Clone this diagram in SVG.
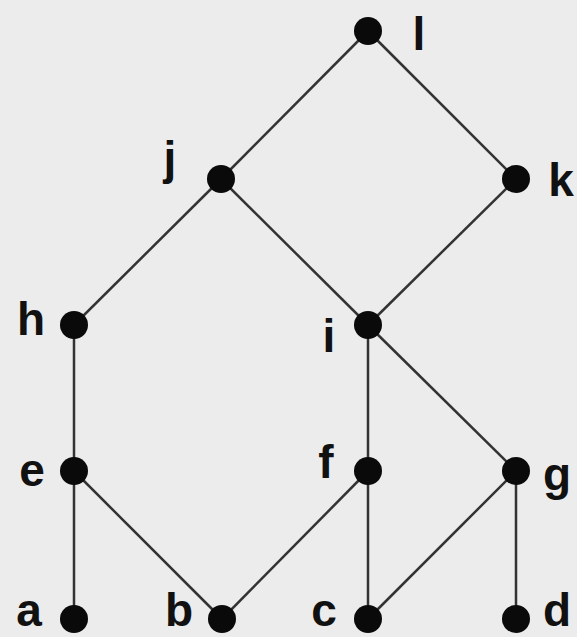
<svg xmlns="http://www.w3.org/2000/svg" width="577" height="637" viewBox="0 0 577 637">
<style>
.e{stroke:#333;stroke-width:2.5;fill:none}
.n{fill:#0a0a0a}
.t{font-family:"Liberation Sans",Arial,sans-serif;font-weight:bold;font-size:46px;fill:#111;text-anchor:middle}
</style>
<rect width="577" height="637" fill="#ececec"/>
<g id="connectors">
<line class="e" x1="368" y1="31" x2="221" y2="179"/>
<line class="e" x1="368" y1="31" x2="516" y2="179"/>
<line class="e" x1="221" y1="179" x2="74" y2="325"/>
<line class="e" x1="221" y1="179" x2="368" y2="325"/>
<line class="e" x1="516" y1="179" x2="368" y2="325"/>
<line class="e" x1="74" y1="325" x2="74" y2="471"/>
<line class="e" x1="368" y1="325" x2="368" y2="471"/>
<line class="e" x1="368" y1="325" x2="516" y2="471"/>
<line class="e" x1="74" y1="471" x2="74" y2="619"/>
<line class="e" x1="74" y1="471" x2="222" y2="619"/>
<line class="e" x1="368" y1="471" x2="222" y2="619"/>
<line class="e" x1="368" y1="471" x2="368" y2="619"/>
<line class="e" x1="516" y1="471" x2="368" y2="619"/>
<line class="e" x1="516" y1="471" x2="516" y2="619"/>
</g>
<g id="node-l"><circle class="n" cx="368" cy="31" r="14"/><text class="t" x="419" y="50">l</text></g>
<g id="node-j"><circle class="n" cx="221" cy="179" r="14"/><text class="t" x="170" y="174">j</text></g>
<g id="node-k"><circle class="n" cx="516" cy="179" r="14"/><text class="t" x="561" y="196">k</text></g>
<g id="node-h"><circle class="n" cx="74" cy="325" r="14"/><text class="t" x="31" y="335">h</text></g>
<g id="node-i"><circle class="n" cx="368" cy="325" r="14"/><text class="t" x="329" y="352">i</text></g>
<g id="node-e"><circle class="n" cx="74" cy="471" r="14"/><text class="t" x="32" y="486">e</text></g>
<g id="node-f"><circle class="n" cx="368" cy="471" r="14"/><text class="t" x="326" y="478">f</text></g>
<g id="node-g"><circle class="n" cx="516" cy="471" r="14"/><text class="t" x="557" y="490">g</text></g>
<g id="node-a"><circle class="n" cx="74" cy="619" r="14"/><text class="t" x="29" y="626">a</text></g>
<g id="node-b"><circle class="n" cx="222" cy="619" r="14"/><text class="t" x="179" y="626">b</text></g>
<g id="node-c"><circle class="n" cx="368" cy="619" r="14"/><text class="t" x="324" y="626">c</text></g>
<g id="node-d"><circle class="n" cx="516" cy="619" r="14"/><text class="t" x="557" y="626">d</text></g>
</svg>
